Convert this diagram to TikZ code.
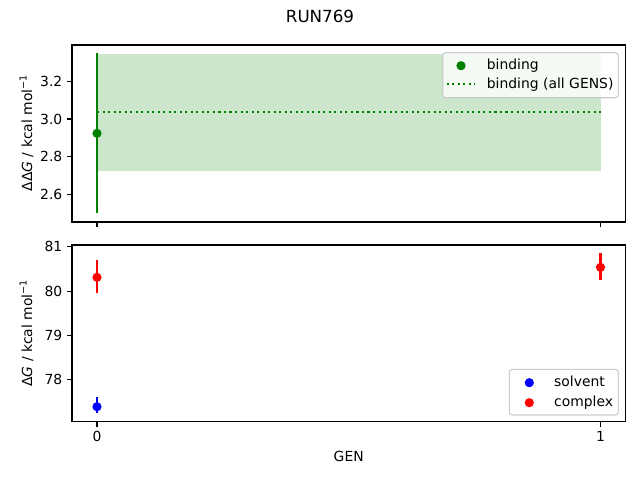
\documentclass[tikz,border=0pt]{standalone}
\usepackage{fontspec}
\setmainfont{DejaVu Sans}
\definecolor{mgreen}{RGB}{0,128,0}
\definecolor{bandc}{RGB}{204,230,204}
\definecolor{legedge}{RGB}{204,204,204}
\definecolor{mred}{RGB}{255,0,0}
\definecolor{mblue}{RGB}{0,0,255}
\newcommand{\txt}{\fontsize{13.9}{16}\selectfont}
\newcommand{\supm}{\raisebox{5.5pt}{\fontsize{9.7}{11}\selectfont −1}}
\tikzset{
  axframe/.style={draw=black, line width=1.1pt},
  tickmark/.style={draw=black, line width=1.1pt},
  ticklab/.style={inner sep=0pt, font=\txt},
  errline/.style={line width=2.1pt},
  legbox/.style={draw=legedge, line width=1.1pt, fill=white, fill opacity=0.8, rounded corners=3pt},
  labtxt/.style={inner sep=0pt, font=\txt},
}
\def\mr{4.6}
\begin{document}
\begin{tikzpicture}[x=1pt,y=-1pt]
\useasboundingbox (0,0) rectangle (640,480);
\fill[white] (0,0) rectangle (640,480);

% title
\node[labtxt, font=\fontsize{16.7}{19}\selectfont, anchor=base] (title) at (320,22) {RUN769};

% ---------- top axes ----------
\fill[bandc] (97,54) rectangle (600.5,170.7);
\coordinate (dl1) at (97,111.7);
\coordinate (dl2) at (600.5,111.7);
\draw[mgreen, line width=2.08pt, dash pattern=on 2.08pt off 3.44pt] (dl1) -- (dl2);
\coordinate (eb1t) at (97,53.3);
\coordinate (eb1b) at (97,213.3);
\draw[mgreen, errline] (eb1t) -- (eb1b);
\fill[mgreen] (97,133.3) circle (\mr);
\draw[axframe] (72,45) rectangle (625.5,222);
% y ticks
\foreach \v/\y in {3.2/81.5, 3.0/119.0, 2.8/156.6, 2.6/194.2}{
  \draw[tickmark] (72,\y) -- (67.1,\y);
  \node[ticklab, anchor=east] at (62.5,\y) {\v};
}
% x ticks (no labels)
\draw[tickmark] (97,222) -- (97,226.9);
\draw[tickmark] (600.5,222) -- (600.5,226.9);
% ylabel
\node[labtxt, rotate=90, anchor=south] (ylab1) at (33.5,133.5)
  {Δ\kern0.5ptΔ{\itshape G} / kcal mol\supm};
% legend
\draw[legbox] (442.7,52.7) rectangle (618.3,97.7);
\fill[mgreen] (461,65.7) circle (\mr);
\node[labtxt, anchor=base west] (lg1) at (486.7,69.8) {binding};
\coordinate (ld1) at (446.7,84.3);
\coordinate (ld2) at (474.5,84.3);
\draw[mgreen, line width=2.08pt, dash pattern=on 2.08pt off 3.44pt] (ld1) -- (ld2);
\node[labtxt, anchor=base west] (lg2) at (486.7,88.4) {binding (all GENS)};

% ---------- bottom axes ----------
\coordinate (r0t) at (97,260);
\coordinate (r0b) at (97,293.3);
\draw[mred, errline] (r0t) -- (r0b);
\fill[mred] (97,277.3) circle (\mr);
\coordinate (b0t) at (97,397.3);
\coordinate (b0b) at (97,413.3);
\draw[mblue, errline] (b0t) -- (b0b);
\fill[mblue] (97,406.7) circle (\mr);
\coordinate (r1t) at (600.5,253.3);
\coordinate (r1b) at (600.5,280);
\draw[mred, errline] (r1t) -- (r1b);
\fill[mred] (600.5,267.3) circle (\mr);
\draw[axframe] (72,245) rectangle (625.5,421.7);
\foreach \v/\y in {81/246.9, 80/291.2, 79/335.3, 78/379.4}{
  \draw[tickmark] (72,\y) -- (67.1,\y);
  \node[ticklab, anchor=east] at (62.5,\y) {\v};
}
\draw[tickmark] (97,421.7) -- (97,426.6);
\draw[tickmark] (600.5,421.7) -- (600.5,426.6);
\node[ticklab, anchor=base] (x0) at (97,441.7) {0};
\node[ticklab, anchor=base] (x1) at (600.5,441.7) {1};
\node[labtxt, anchor=base] (xlab) at (348.7,461.7) {GEN};
\node[labtxt, rotate=90, anchor=south] (ylab2) at (33.5,333.4)
  {Δ{\itshape G} / kcal mol\supm};
% legend
\draw[legbox] (509.3,369.3) rectangle (618.3,415);
\fill[mblue] (529.3,382.7) circle (\mr);
\node[labtxt, anchor=base west] (lg3) at (554,386.7) {solvent};
\fill[mred] (529.3,402.7) circle (\mr);
\node[labtxt, anchor=base west] (lg4) at (554,406.4) {complex};
\end{tikzpicture}
\end{document}
